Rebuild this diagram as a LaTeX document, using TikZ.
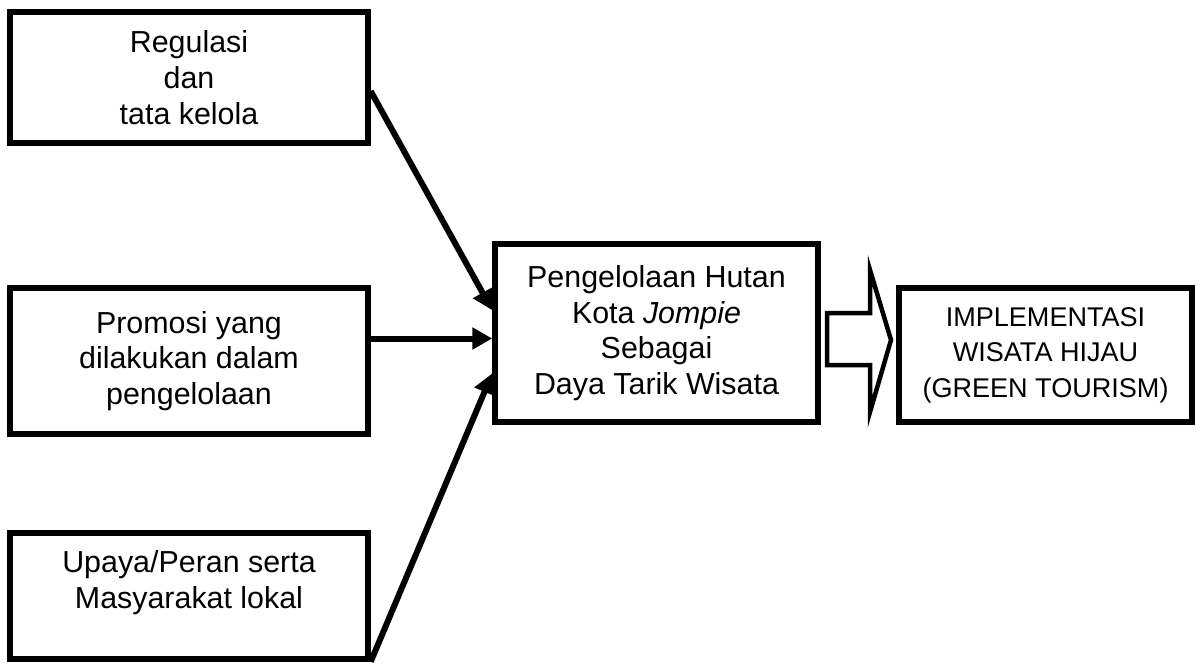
\documentclass[tikz,border=0pt]{standalone}
\usepackage{fontspec}
\setmainfont{Liberation Sans}
\usetikzlibrary{positioning, arrows.meta, calc}

\begin{document}
\begin{tikzpicture}
    [
        x=0.02cm, y=-0.02cm, on grid,
        factor_box/.style={rectangle, draw=black, line width=1.1mm, minimum width=7.16cm, align=center, font=\fontsize{17.3}{20.4}\selectfont},
        main_box/.style={rectangle, draw=black, line width=1.1mm, minimum width=6.46cm, minimum height=3.56cm, align=center, font=\fontsize{17.3}{20.2}\selectfont},
        goal_box/.style={rectangle, draw=black, line width=1.1mm, minimum width=5.86cm, minimum height=2.68cm, align=center, font=\fontsize{15.4}{20.2}\selectfont},
        link/.style={-{Triangle[length=4mm, width=4.2mm]}, line width=1.2mm},
        big_arrow/.style={draw=black, line width=0.9mm, line join=miter},
    ]
        \useasboundingbox (0,0) rectangle (1196,663);
        % the three factors on the left
        \node[factor_box, minimum height=2.92cm] (promo) at (189,361) {Promosi yang\\dilakukan dalam\\pengelolaan} ;
        \node[factor_box, minimum height=2.62cm] (reg) [above = 5.67cm of promo] {Regulasi\\dan\\tata kelola} ;
        \node[factor_box, minimum height=2.52cm, text depth=0.65cm] (warga) [below = 4.7cm of promo] {Upaya/Peran serta\\Masyarakat lokal} ;
        % middle and goal
        \node[main_box] (kelola) at (656.5,333) {Pengelolaan Hutan\\Kota \textit{Jompie}\\Sebagai\\Daya Tarik Wisata} ;
        \node[goal_box] (wisata) at (1045.5,355) {IMPLEMENTASI\\WISATA HIJAU\\(GREEN TOURISM)} ;
        \coordinate (out1) at ($(reg.north east)!0.6!(reg.south east)$) ;
        \coordinate (in1) at ($(kelola.north west)!0.376!(kelola.south west)$) ;
        \coordinate (in2) at ($(kelola.north west)!0.53!(kelola.south west)$) ;
        \coordinate (in3) at ($(kelola.north west)!0.72!(kelola.south west)$) ;
        \draw[link] (out1) -- (in1) ;
        \draw[link] (promo.east |- in2) -- (in2) ;
        \draw[link] (warga.south east) -- (in3) ;
        \draw[big_arrow] (827,313) -- (870,313) -- (870,270) -- (891,340) -- (870,412) -- (870,365) -- (827,365) -- cycle ;
    \end{tikzpicture}
\end{document}
